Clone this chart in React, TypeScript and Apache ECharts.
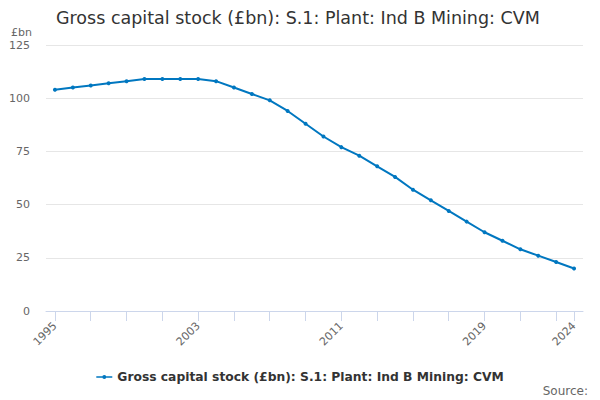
import React, { useEffect, useRef } from "react";
import * as echarts from "echarts";

const years: string[] = [
  "1995", "1996", "1997", "1998", "1999", "2000", "2001", "2002", "2003", "2004",
  "2005", "2006", "2007", "2008", "2009", "2010", "2011", "2012", "2013", "2014",
  "2015", "2016", "2017", "2018", "2019", "2020", "2021", "2022", "2023", "2024",
];
const values: number[] = [
  104, 105, 106, 107, 108, 109, 109, 109, 109, 108,
  105, 102, 99, 94, 88, 82, 77, 73, 68, 63,
  57, 52, 47, 42, 37, 33, 29, 26, 23, 20,
];
const labelYears: string[] = ["1995", "2003", "2011", "2019", "2024"];
const seriesName = "Gross capital stock (£bn): S.1: Plant: Ind B Mining: CVM";
const titleText = "Gross capital stock (£bn): S.1: Plant: Ind B Mining: CVM";

const FONT = "DejaVu Sans, sans-serif";
const LEGEND_ICON = "path://M0,2.5h16v1.4h-16z M8,1.2a2,2 0 1,1 0,4a2,2 0 1,1 0,-4z";

export default function App() {
  const ref = useRef<HTMLDivElement>(null);
  useEffect(() => {
    document.body.style.margin = "0";
    if (!ref.current) return;
    const chart = echarts.init(ref.current, null, { renderer: "svg" });
    chart.setOption({
      animation: false,
      textStyle: { fontFamily: FONT },
      title: {
        text: titleText,
        left: 51,
        top: 4,
        textStyle: { fontSize: 17.5, fontWeight: "normal", color: "#333333", fontFamily: FONT },
      },
      grid: { left: 46, right: 17, top: 45, bottom: 89, containLabel: false },
      xAxis: {
        type: "category",
        data: years,
        boundaryGap: true,
        axisLine: { lineStyle: { color: "#ccd6eb", width: 1 } },
        axisTick: {
          show: true,
          alignWithLabel: true,
          length: 10,
          interval: (i: number) => i % 2 === 0 || i === years.length - 1,
          lineStyle: { color: "#ccd6eb", width: 1 },
        },
        axisLabel: {
          interval: (i: number, v: string) => labelYears.includes(v),
          rotate: 45,
          color: "#666666",
          fontSize: 11,
          margin: 13,
          fontFamily: FONT,
        },
      },
      yAxis: {
        type: "value",
        min: 0,
        max: 125,
        interval: 25,
        axisLine: { show: false },
        axisTick: { show: false },
        splitLine: { lineStyle: { color: "#e6e6e6" } },
        axisLabel: { color: "#666666", fontSize: 11, margin: 16, fontFamily: FONT },
      },
      legend: {
        top: 366,
        left: "center",
        itemWidth: 16,
        itemHeight: 6,
        itemGap: 10,
        icon: LEGEND_ICON,
        data: [{ name: seriesName, icon: LEGEND_ICON, itemStyle: { color: "#0077c0" } }],
        textStyle: { fontSize: 12.3, fontWeight: "bold", color: "#333333", fontFamily: FONT, padding: [0, 0, 0, 0] },
      },
      graphic: [
        {
          type: "text",
          left: 11,
          top: 27,
          style: { text: "£bn", fontSize: 11, fill: "#666666", fontFamily: FONT },
        },
        {
          type: "text",
          right: 12,
          top: 385,
          style: { text: "Source:", fontSize: 12, fill: "#666666", fontFamily: FONT },
        },
      ],
      series: [
        {
          name: seriesName,
          type: "line",
          data: values,
          symbol: "circle",
          symbolSize: 4,
          showSymbol: true,
          lineStyle: { color: "#0077c0", width: 2 },
          itemStyle: { color: "#0077c0" },
        },
      ],
    });
    return () => chart.dispose();
  }, []);
  return <div ref={ref} style={{ width: 600, height: 400 }} />;
}
